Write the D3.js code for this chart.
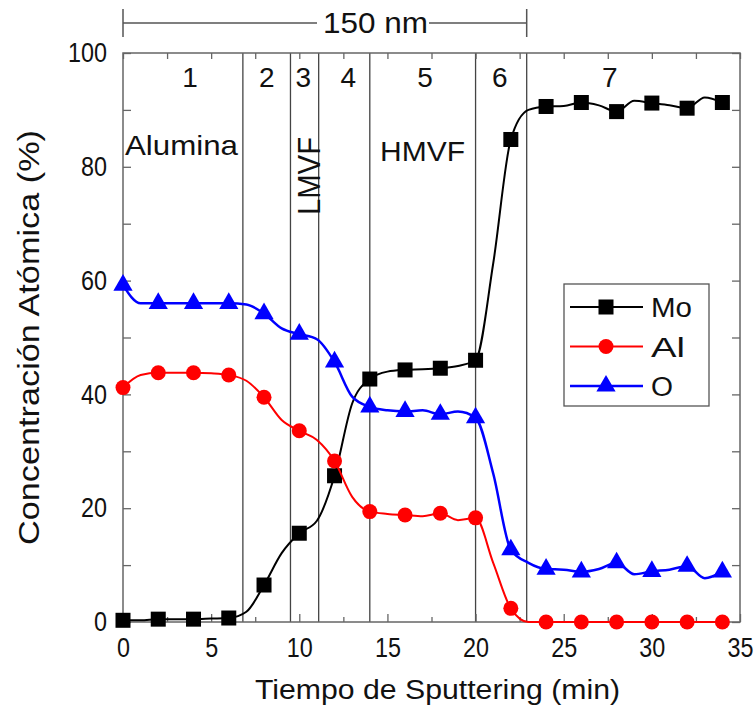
<!DOCTYPE html>
<html>
<head>
<meta charset="utf-8">
<script src="https://cdn.jsdelivr.net/npm/d3@7"></script>
<style>
  html, body { margin: 0; padding: 0; background: #fff; overflow: hidden; }
  svg { display: block; }
  svg text { font-family: "Liberation Sans", Arial, sans-serif; fill: #111; }
</style>
</head>
<body>
<script>
// sputtering time (min), one point per minute
const time = d3.range(0, 35);
// atomic concentration (%)
const moValues = [0.3, 0.3, 0.5, 0.5, 0.5, 0.6, 0.7, 1.8, 6.5, 12.1, 15.6, 17.8, 25.7, 38.4, 42.7, 44.0,
  44.3, 44.4, 44.6, 45.0, 46.0, 63.0, 84.8, 90.0, 90.6, 90.7, 91.3, 90.8, 89.7, 91.6, 91.2, 90.8, 90.3, 92.2, 91.3];
const alValues = [41.2, 43.4, 43.8, 43.8, 43.8, 43.7, 43.4, 42.4, 39.5, 35.5, 33.6, 32.0, 28.3, 22.0, 19.4, 19.0,
  18.8, 18.6, 19.1, 17.9, 18.3, 10.4, 2.4, 0, 0, 0, 0, 0, 0, 0, 0, 0, 0, 0, 0];
const oValues = [59.2, 56.0, 56.0, 56.0, 56.0, 56.0, 56.0, 55.8, 54.2, 51.6, 50.6, 49.7, 45.7, 39.6, 37.8, 37.2,
  37.0, 37.2, 36.5, 37.0, 35.9, 26.1, 12.7, 10.4, 9.3, 9.2, 8.8, 9.3, 10.4, 8.4, 8.9, 9.2, 9.8, 7.7, 8.8];
const seriesNames = ["Mo", "Al", "O"];
const seriesColors = ["#000000", "#ff0000", "#0000ff"];
const seriesShapes = ["square", "circle", "triangle"];

// region boundaries and labels
const boundaries = [6.8, 9.5, 11.1, 14, 20, 22.9];
const regionLabels = ["1", "2", "3", "4", "5", "6", "7"];
const regionLabelX = [3.8, 8.15, 10.23, 12.78, 17.13, 21.38, 27.62];

const xTicks = [0, 5, 10, 15, 20, 25, 30, 35];
const yTicks = [0, 20, 40, 60, 80, 100];

const w = 756, h = 711;
const margin = { top: 53, right: 16, bottom: 89, left: 123 };
const innerWidth = w - margin.left - margin.right;
const innerHeight = h - margin.top - margin.bottom;

const svg = d3.select("body").append("svg")
  .attr("width", w).attr("height", h);

const xScale = d3.scaleLinear().domain([0, 35]).range([0, innerWidth]);
const yScale = d3.scaleLinear().domain([0, 100]).range([innerHeight, 0]);

const g = svg.append("g").attr("transform", `translate(${margin.left},${margin.top})`);

// region lines
g.selectAll(".region")
  .data(boundaries)
  .enter().append("line")
  .attr("x1", d => xScale(d)).attr("x2", d => xScale(d))
  .attr("y1", 0).attr("y2", innerHeight)
  .attr("stroke", "#444").attr("stroke-width", 1.3);

// axes with inward ticks
const frameColor = "#666";
function styleAxis(sel) {
  sel.select(".domain").remove();
  sel.selectAll(".tick line").attr("stroke", frameColor).attr("stroke-width", 1.3);
  sel.selectAll(".tick text").attr("font-size", 27).attr("fill", "#111")
    .attr("textLength", function () { return this.textContent.length * 13; })
    .attr("lengthAdjust", "spacingAndGlyphs");
}
function noText(sel) {
  sel.select(".domain").remove();
  sel.selectAll(".tick text").remove();
  sel.selectAll(".tick line").attr("stroke", frameColor).attr("stroke-width", 1.3);
}
const minorX = d3.range(0, 35.1, 2.5).filter(v => v % 5 !== 0);
const minorY = d3.range(10, 100, 20);

g.append("g").attr("transform", `translate(0,${innerHeight})`)
  .call(d3.axisBottom(xScale).tickValues(xTicks).tickSize(-8).tickPadding(16).tickFormat(d3.format("d")))
  .call(styleAxis);
g.append("g").attr("transform", `translate(0,${innerHeight})`)
  .call(d3.axisBottom(xScale).tickValues(minorX).tickSize(-5))
  .call(noText);
g.append("g")
  .call(d3.axisTop(xScale).tickValues(xTicks.concat(minorX)).tickSize(-6))
  .call(noText);
g.append("g")
  .call(d3.axisLeft(yScale).tickValues(yTicks).tickSize(-8).tickPadding(16).tickFormat(d3.format("d")))
  .call(styleAxis);
g.append("g")
  .call(d3.axisLeft(yScale).tickValues(minorY).tickSize(-8))
  .call(noText);
g.append("g").attr("transform", `translate(${innerWidth},0)`)
  .call(d3.axisRight(yScale).tickValues(d3.range(0, 101, 10)).tickSize(-8))
  .call(noText);

g.append("rect")
  .attr("width", innerWidth).attr("height", innerHeight)
  .attr("fill", "none").attr("stroke", frameColor).attr("stroke-width", 1.5);

// series
const allValues = [moValues, alValues, oValues];
const line = d3.line()
  .x((d, i) => xScale(time[i]))
  .y(d => yScale(d))
  .curve(d3.curveMonotoneX);

function marker(sel, shape, color) {
  if (shape === "square") {
    sel.append("rect").attr("x", -7.5).attr("y", -7.5).attr("width", 15).attr("height", 15).attr("fill", color);
  } else if (shape === "circle") {
    sel.append("circle").attr("r", 7.5).attr("fill", color);
  } else {
    sel.append("path").attr("d", d3.symbol().type(d3.symbolTriangle).size(160)()).attr("fill", color);
  }
}

allValues.forEach((vals, k) => {
  g.append("path")
    .datum(vals)
    .attr("d", line)
    .attr("fill", "none")
    .attr("stroke", seriesColors[k])
    .attr("stroke-width", k === 2 ? 2.5 : 2);
  const pts = vals.map((v, i) => ({ t: time[i], v })).filter(d => d.t % 2 === 0);
  pts.forEach(d => {
    const m = g.append("g").attr("transform", `translate(${xScale(d.t)},${yScale(d.v)})`);
    marker(m, seriesShapes[k], seriesColors[k]);
  });
});

// region labels
g.selectAll(".rlabel")
  .data(regionLabels)
  .enter().append("text")
  .attr("x", (d, i) => xScale(regionLabelX[i]))
  .attr("y", 34)
  .attr("text-anchor", "middle")
  .attr("font-size", 28)
  .text(d => d);

g.append("text").attr("x", 2).attr("y", 102).attr("font-size", 28)
  .attr("textLength", 113).attr("lengthAdjust", "spacingAndGlyphs").text("Alumina");
g.append("text").attr("x", 257).attr("y", 108).attr("font-size", 28)
  .attr("textLength", 85).attr("lengthAdjust", "spacingAndGlyphs").text("HMVF");
g.append("text")
  .attr("transform", `translate(${320 - margin.left},${215 - margin.top}) rotate(-90)`)
  .attr("font-size", 31).attr("textLength", 78).attr("lengthAdjust", "spacingAndGlyphs").text("LMVF");

// 150 nm bar
const barY = 23;
svg.append("line")
  .attr("x1", margin.left + xScale(0)).attr("x2", 317)
  .attr("y1", barY).attr("y2", barY).attr("stroke", "#555").attr("stroke-width", 1.5);
svg.append("line")
  .attr("x1", 429).attr("x2", margin.left + xScale(22.9))
  .attr("y1", barY).attr("y2", barY).attr("stroke", "#555").attr("stroke-width", 1.5);
[0, 22.9].forEach(v => {
  svg.append("line")
    .attr("x1", margin.left + xScale(v)).attr("x2", margin.left + xScale(v))
    .attr("y1", 9).attr("y2", 37).attr("stroke", "#555").attr("stroke-width", 1.5);
});
svg.append("text")
  .attr("x", 323).attr("y", 33)
  .attr("font-size", 30).attr("textLength", 105).attr("lengthAdjust", "spacingAndGlyphs")
  .text("150 nm");

// legend
const legend = svg.append("g").attr("transform", "translate(564,284)");
legend.append("rect").attr("width", 145).attr("height", 122)
  .attr("fill", "#fff").attr("stroke", "#555").attr("stroke-width", 1.3);
const legendLen = [41, 34, 22];
seriesNames.forEach((name, k) => {
  const yy = 23 + k * 39.5;
  legend.append("line").attr("x1", 6).attr("x2", 79).attr("y1", yy).attr("y2", yy)
    .attr("stroke", seriesColors[k]).attr("stroke-width", k === 2 ? 2.5 : 2);
  marker(legend.append("g").attr("transform", `translate(42,${yy})`), seriesShapes[k], seriesColors[k]);
  legend.append("text").attr("x", 87).attr("y", yy + 10).attr("font-size", 27)
    .attr("textLength", legendLen[k]).attr("lengthAdjust", "spacingAndGlyphs").text(name);
});

// axis titles
svg.append("text")
  .attr("x", 255).attr("y", 699).attr("font-size", 27)
  .attr("textLength", 365).attr("lengthAdjust", "spacingAndGlyphs")
  .text("Tiempo de Sputtering (min)");
svg.append("text")
  .attr("transform", `translate(39,545) rotate(-90)`)
  .attr("font-size", 29).attr("textLength", 415).attr("lengthAdjust", "spacingAndGlyphs")
  .text("Concentración Atómica (%)");
</script>
</body>
</html>
